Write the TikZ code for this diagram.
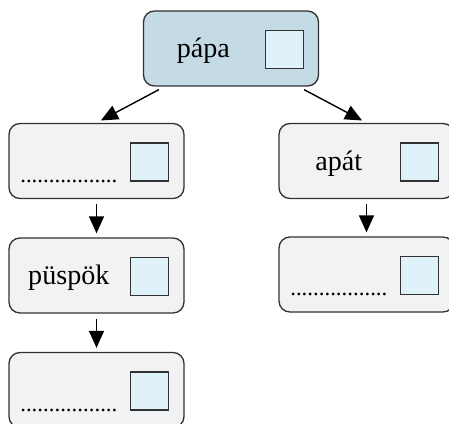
\documentclass[tikz,border=0pt]{standalone}
\usepackage{fontspec}
\setmainfont{Liberation Serif}
\usepackage{xcolor}
\usepackage{tikz}
\usetikzlibrary{shapes,positioning,arrows.meta}
\definecolor{boxfill}{RGB}{241,242,244}
\definecolor{topfill}{RGB}{196,218,229}
\definecolor{sqfill}{RGB}{223,242,250}
\definecolor{edge}{RGB}{50,50,50}
\tikzset{rank/.style={rectangle,rounded corners=0.22cm,draw=edge,line width=0.75pt,fill=boxfill,minimum width=3.5cm,minimum height=1.5cm},
  sq/.style={rectangle,draw=edge,line width=0.65pt,fill=sqfill,minimum size=0.76cm,inner sep=0pt},
  word/.style={anchor=base,inner sep=0pt,font=\fontsize{16}{18}\selectfont},
  blank/.style={anchor=base,inner sep=0pt,font=\fontsize{13}{15}\selectfont}}

\begin{document}
\begin{tikzpicture}[>={Triangle[length=0.34cm 0,width=0.3cm 0]},line width=0.8pt]
		\useasboundingbox (0,0) rectangle (8.98,-8.46);
		\node[rank,fill=topfill] (papa) at (4.62,-0.97) {};
        \node[rank] (l1) at (1.93,-3.22) {};
        \node[rank] (l2) at (1.93,-5.51) {};
        \node[rank] (l3) at (1.93,-7.8) {};
        \node[rank] (r1) at (7.33,-3.22) {};
        \node[rank] (r2) at (7.33,-5.49) {};

        \foreach \b in {papa,l1,l2,l3,r1,r2}
            \node[sq] (\b-sq) at ([xshift=-0.7cm,yshift=-0.02cm]\b.east) {};

        \node[word] (papa-t) at ([xshift=1.21cm,yshift=-0.18cm]papa.west) {pápa};
        \node[word] (l2-t) at ([xshift=1.21cm,yshift=-0.18cm]l2.west) {püspök};
        \node[word] (r1-t) at ([xshift=1.21cm,yshift=-0.18cm]r1.west) {apát};
        \node[blank] (l1-t) at ([xshift=1.21cm,yshift=-0.42cm]l1.west) {.................};
        \node[blank] (l3-t) at ([xshift=1.21cm,yshift=-0.42cm]l3.west) {.................};
        \node[blank] (r2-t) at ([xshift=1.21cm,yshift=-0.42cm]r2.west) {.................};

        \draw [->,shorten >=0.1cm] ([xshift=0.32cm,yshift=-0.06cm]papa.south west) -- (l1.north);
		\draw [->,shorten >=0.1cm] ([xshift=-0.3cm,yshift=-0.06cm]papa.south east) -- (r1.north);
		\draw [->,shorten <=0.1cm,shorten >=0.08cm] (l1) -- (l2);
		\draw [->,shorten <=0.1cm,shorten >=0.08cm] (l2) -- (l3);
		\draw [->,shorten <=0.1cm,shorten >=0.08cm] (r1) -- (r2);
    \end{tikzpicture}
\end{document}
